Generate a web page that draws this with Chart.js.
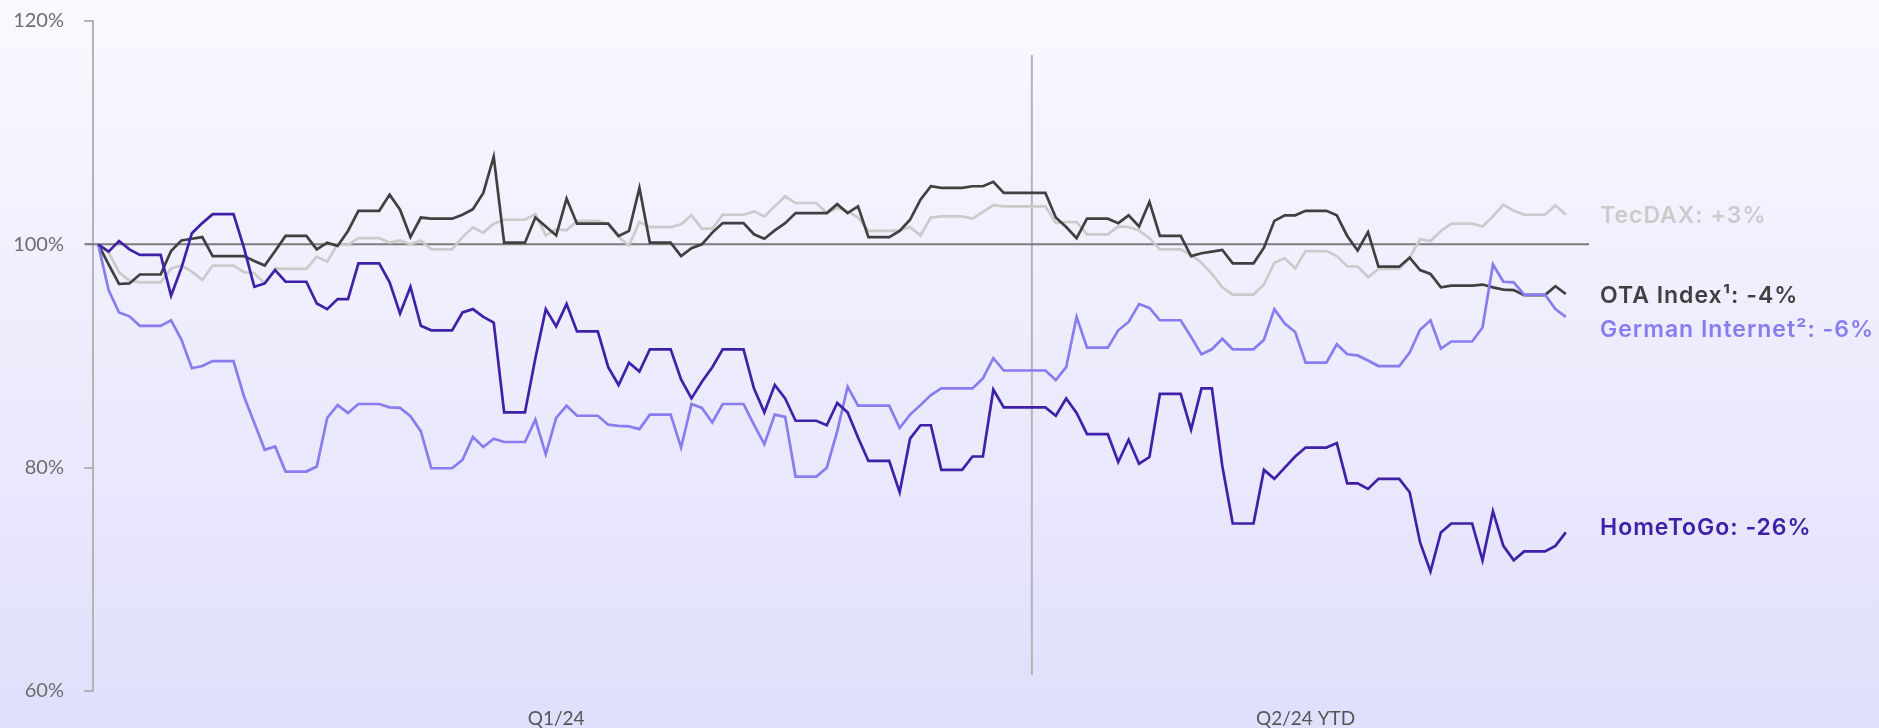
<!DOCTYPE html>
<html>
<head>
<meta charset="utf-8">
<title>Share price performance 2024</title>
<script src="https://cdn.jsdelivr.net/npm/chart.js@4.4.1/dist/chart.umd.min.js"></script>
<style>
  html, body { margin: 0; padding: 0; }
  body {
    width: 1879px;
    height: 728px;
    overflow: hidden;
    background: linear-gradient(180deg, #f9f9ff 0%, #eeedfd 45%, #e0dffc 100%);
  }
  #wrap { position: relative; width: 1879px; height: 728px; }
</style>
</head>
<body>
<div id="wrap"><canvas id="myChart"></canvas></div>
<script>
// periods on the x axis (daily points, weekends carried forward)
const periods = ['Q1/24', 'Q2/24 YTD'];
const periodDays = [91, 51];
const startDay = '2024-01-01';

// y axis ticks
const yTicks = [60, 80, 100, 120];

// indexed performance, 100% = 1 Jan 2024 (one row = one week, Mon..Sun)
const homeToGo = [
  100, 99.35, 100.3, 99.55, 99.05, 99.05, 99.05,
  95.4, 97.9, 101.0, 101.9, 102.7, 102.7, 102.7,
  99.7, 96.2, 96.5, 97.7, 96.65, 96.65, 96.65,
  94.7, 94.2, 95.1, 95.1, 98.3, 98.3, 98.3,
  96.6, 93.8, 96.2, 92.7, 92.3, 92.3, 92.3,
  93.9, 94.2, 93.5, 93.0, 84.95, 84.95, 84.95,
  89.8, 94.2, 92.65, 94.65, 92.2, 92.2, 92.2,
  89.0, 87.4, 89.4, 88.6, 90.6, 90.6, 90.6,
  87.9, 86.2, 87.7, 89.0, 90.6, 90.6, 90.6,
  87.1, 84.95, 87.4, 86.2, 84.2, 84.2, 84.2,
  83.8, 85.8, 84.95, 82.7, 80.6, 80.6, 80.6,
  77.8, 82.6, 83.8, 83.8, 79.8, 79.8, 79.8,
  81.0, 81.0, 87.0, 85.4, 85.4, 85.4, 85.4,
  85.4, 84.65, 86.2, 84.9, 83.0, 83.0, 83.0,
  80.5, 82.5, 80.35, 80.95, 86.6, 86.6, 86.6,
  83.4, 87.1, 87.1, 80.15, 75.0, 75.0, 75.0,
  79.8, 79.0, 80.0, 81.0, 81.8, 81.8, 81.8,
  82.2, 78.6, 78.6, 78.1, 79.0, 79.0, 79.0,
  77.8, 73.3, 70.7, 74.2, 75.0, 75.0, 75.0,
  71.7, 76.1, 73.0, 71.7, 72.5, 72.5, 72.5,
  73.0, 74.2
];

const germanInternet = [
  100, 95.9, 93.9, 93.55, 92.7, 92.7, 92.7,
  93.2, 91.45, 88.9, 89.1, 89.55, 89.55, 89.55,
  86.4, 84.0, 81.6, 81.9, 79.65, 79.65, 79.65,
  80.1, 84.45, 85.6, 84.9, 85.7, 85.7, 85.7,
  85.4, 85.35, 84.6, 83.25, 79.95, 79.95, 79.95,
  80.7, 82.75, 81.85, 82.6, 82.3, 82.3, 82.3,
  84.3, 81.2, 84.45, 85.55, 84.65, 84.65, 84.65,
  83.85, 83.75, 83.7, 83.45, 84.75, 84.75, 84.75,
  81.8, 85.7, 85.35, 84.05, 85.7, 85.7, 85.7,
  83.85, 82.1, 84.75, 84.55, 79.2, 79.2, 79.2,
  80.0, 83.25, 87.25, 85.55, 85.55, 85.55, 85.55,
  83.55, 84.75, 85.6, 86.5, 87.1, 87.1, 87.1,
  87.1, 88.0, 89.8, 88.7, 88.7, 88.7, 88.7,
  88.7, 87.85, 89.0, 93.5, 90.75, 90.75, 90.75,
  92.3, 93.05, 94.65, 94.3, 93.2, 93.2, 93.2,
  91.7, 90.15, 90.6, 91.55, 90.6, 90.6, 90.6,
  91.45, 94.2, 92.9, 92.15, 89.4, 89.4, 89.4,
  91.05, 90.15, 90.05, 89.6, 89.1, 89.1, 89.1,
  90.3, 92.35, 93.2, 90.65, 91.3, 91.3, 91.3,
  92.55, 98.2, 96.65, 96.6, 95.5, 95.5, 95.5,
  94.2, 93.5
];

const otaIndex = [
  100, 98.2, 96.45, 96.5, 97.3, 97.3, 97.3,
  99.4, 100.35, 100.5, 100.65, 98.95, 98.95, 98.95,
  98.95, 98.5, 98.1, 99.4, 100.75, 100.75, 100.75,
  99.55, 100.15, 99.85, 101.2, 103.0, 103.0, 103.0,
  104.45, 103.1, 100.65, 102.4, 102.3, 102.3, 102.3,
  102.65, 103.15, 104.6, 107.85, 100.15, 100.15, 100.15,
  102.4, 101.6, 100.8, 104.1, 101.85, 101.85, 101.85,
  101.85, 100.75, 101.2, 105.05, 100.15, 100.15, 100.15,
  98.95, 99.65, 100.0, 101.05, 101.9, 101.9, 101.9,
  100.9, 100.5, 101.25, 101.9, 102.8, 102.8, 102.8,
  102.8, 103.6, 102.8, 103.4, 100.65, 100.65, 100.65,
  101.2, 102.2, 104.0, 105.2, 105.05, 105.05, 105.05,
  105.2, 105.2, 105.6, 104.6, 104.6, 104.6, 104.6,
  104.6, 102.4, 101.55, 100.55, 102.3, 102.3, 102.3,
  101.9, 102.6, 101.6, 103.8, 100.75, 100.75, 100.75,
  98.95, 99.2, 99.35, 99.5, 98.3, 98.3, 98.3,
  99.7, 102.1, 102.6, 102.6, 103.0, 103.0, 103.0,
  102.6, 100.75, 99.45, 101.1, 98.0, 98.0, 98.0,
  98.8, 97.7, 97.35, 96.15, 96.3, 96.3, 96.3,
  96.4, 96.15, 95.95, 95.9, 95.45, 95.45, 95.45,
  96.25, 95.55
];

const tecDax = [
  100, 99.25, 97.5, 96.75, 96.6, 96.6, 96.6,
  97.85, 98.1, 97.55, 96.8, 98.1, 98.1, 98.1,
  97.5, 97.4, 96.5, 97.85, 97.8, 97.8, 97.8,
  98.9, 98.45, 100.0, 99.95, 100.55, 100.55, 100.55,
  100.15, 100.35, 100.0, 100.35, 99.55, 99.55, 99.55,
  100.65, 101.5, 101.05, 101.85, 102.2, 102.2, 102.2,
  102.7, 100.8, 101.35, 101.25, 102.1, 102.1, 102.1,
  101.8, 100.65, 99.9, 102.0, 101.55, 101.55, 101.55,
  101.8, 102.6, 101.4, 101.4, 102.65, 102.65, 102.65,
  102.95, 102.5, 103.4, 104.3, 103.7, 103.7, 103.7,
  102.8, 103.25, 102.95, 102.4, 101.2, 101.2, 101.2,
  101.25, 101.55, 100.8, 102.4, 102.5, 102.5, 102.5,
  102.3, 102.9, 103.5, 103.4, 103.4, 103.4, 103.4,
  103.4, 101.9, 102.0, 102.0, 100.9, 100.9, 100.9,
  101.6, 101.55, 101.25, 100.55, 99.55, 99.55, 99.55,
  99.05, 98.35, 97.35, 96.15, 95.5, 95.5, 95.5,
  96.4, 98.35, 98.75, 97.85, 99.4, 99.4, 99.4,
  98.95, 98.05, 98.0, 97.05, 97.8, 97.8, 97.8,
  98.8, 100.45, 100.3, 101.2, 101.85, 101.85, 101.85,
  101.6, 102.5, 103.55, 103.0, 102.65, 102.65, 102.65,
  103.5, 102.65
];

// series names and their end-of-line labels
const seriesNames = ['HomeToGo', 'German Internet', 'OTA Index', 'TecDAX'];
const endLabels = ['HomeToGo: -26%', 'German Internet\u00b2: -6%', 'OTA Index\u00b9: -4%', 'TecDAX: +3%'];

// build the day labels from the periods
const days = [];
(function () {
  const d = new Date(startDay + 'T00:00:00Z');
  const total = periodDays.reduce((a, b) => a + b, 0);
  for (let i = 0; i < total; i++) {
    days.push(d.toISOString().slice(0, 10));
    d.setUTCDate(d.getUTCDate() + 1);
  }
})();

// where the period names sit on the day axis, and the quarter split
const periodTickIndex = [44, 116];
const quarterSplit = 89.7;

const colors = ['#3f20a6', '#8a7cef', '#404040', '#cbcbcb'];
const labelShift = [-5, 12, 1, 0];

Chart.defaults.font.family = 'Lato, "Noto Sans", sans-serif';

// reference line at 100%, quarter divider and labels at the line ends
const extras = {
  id: 'extras',
  beforeDatasetsDraw(chart) {
    const { ctx, chartArea, scales } = chart;
    const y100 = scales.y.getPixelForValue(100);
    const xs = scales.x.getPixelForValue(quarterSplit);
    ctx.save();
    ctx.strokeStyle = '#b3b3ba';
    ctx.lineWidth = 2;
    ctx.beginPath();
    ctx.moveTo(xs, chartArea.top + 34);
    ctx.lineTo(xs, chartArea.bottom - 16);
    ctx.stroke();

    ctx.strokeStyle = '#7d7d7d';
    ctx.lineWidth = 2;
    ctx.beginPath();
    ctx.moveTo(chartArea.left - 8, y100);
    ctx.lineTo(chartArea.right + 18, y100);
    ctx.stroke();
    ctx.restore();
  },
  afterDatasetsDraw(chart) {
    const { ctx, chartArea, scales } = chart;
    ctx.save();
    ctx.font = '600 23px Inter, "Noto Sans", sans-serif';
    ctx.letterSpacing = '1px';
    ctx.textAlign = 'left';
    ctx.textBaseline = 'alphabetic';
    chart.data.datasets.forEach((ds, i) => {
      const last = ds.data[ds.data.length - 1];
      const y = scales.y.getPixelForValue(last) + labelShift[i] + 8;
      ctx.fillStyle = colors[i];
      ctx.fillText(endLabels[i], chartArea.right + 29, y);
    });
    ctx.restore();
  }
};

const ctx = document.getElementById('myChart').getContext('2d');

new Chart(ctx, {
  type: 'line',
  data: {
    labels: days,
    datasets: [homeToGo, germanInternet, otaIndex, tecDax].map((vals, i) => ({
      label: seriesNames[i],
      data: vals,
      borderColor: colors[i],
      borderWidth: 2.7,
      pointRadius: 0,
      tension: 0,
      fill: false
    }))
  },
  options: {
    responsive: true,
    maintainAspectRatio: false,
    animation: false,
    layout: { padding: { top: 21, right: 308, bottom: 0, left: 0 } },
    plugins: {
      legend: { display: false },
      tooltip: { enabled: false }
    },
    scales: {
      x: {
        offset: true,
        grid: { display: false },
        border: { display: false },
        ticks: {
          autoSkip: false,
          maxRotation: 0,
          padding: 8,
          color: '#555555',
          font: { size: 19 },
          callback: (v, i) => {
            const k = periodTickIndex.indexOf(i);
            return k >= 0 ? periods[k] : '';
          }
        },
        afterFit: (s) => { s.height = 37; }
      },
      y: {
        min: yTicks[0],
        max: yTicks[yTicks.length - 1],
        afterBuildTicks: (s) => { s.ticks = yTicks.map(v => ({ value: v })); },
        grid: {
          drawOnChartArea: false,
          drawTicks: true,
          tickLength: 9,
          color: '#b4b4b4',
          lineWidth: 2
        },
        border: { display: true, color: '#b4b4b4', width: 2 },
        ticks: {
          padding: 20,
          color: '#6d6d6d',
          font: { size: 20 },
          callback: (v) => v + '%'
        },
        afterFit: (s) => {
          s.width = 93;
          s.paddingTop = 0;
          s.paddingBottom = 0;
        }
      }
    }
  },
  plugins: [extras]
});
</script>
</body>
</html>
